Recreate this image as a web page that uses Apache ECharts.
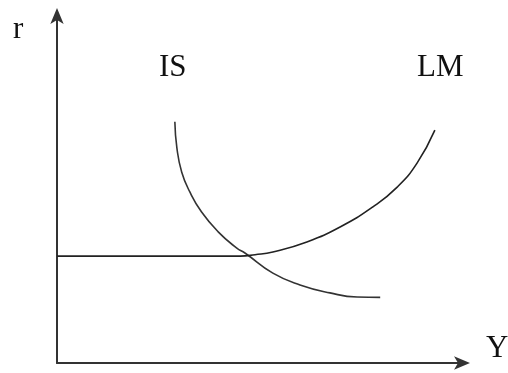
<!DOCTYPE html>
<html><head><meta charset="utf-8">
<script src="https://cdn.jsdelivr.net/npm/echarts@6/dist/echarts.min.js"></script>
<style>html,body{margin:0;padding:0;background:#fff}#c{width:508px;height:373px}</style>
</head><body><div id="c"></div>
<script>
// IS curve (Y, r)
const isY = [29.1, 29.6, 30.8, 32.8, 35.7, 39.8, 44.4, 46.4, 53.3, 60.0, 67.4, 74.1, 79.8];
const isR = [69.5, 62.0, 55.0, 49.3, 43.5, 37.8, 33.1, 31.7, 25.9, 22.5, 20.2, 19.0, 18.9];
// LM curve (Y, r): flat segment then rising
const lmY = [0, 45.2, 48.9, 53.3, 61.7, 69.9, 78.0, 84.0, 88.9, 93.3];
const lmR = [30.8, 30.8, 31.2, 32.0, 34.9, 39.2, 45.0, 50.7, 57.6, 67.1];
const labels = {r: 'r', Y: 'Y', IS: 'IS', LM: 'LM'};

const chart = echarts.init(document.getElementById('c'));
const font = '"Liberation Serif", "DejaVu Serif", serif';
const axisCommon = {
  type: 'value', min: 0, max: 100,
  axisLine: {show: true, lineStyle: {color: '#333', width: 2}, symbol: ['none', 'arrow'], symbolSize: [10, 16], symbolOffset: [0, 8]},
  axisTick: {show: false}, axisLabel: {show: false}, splitLine: {show: false}
};
chart.setOption({
  animation: false,
  backgroundColor: '#fff',
  grid: {left: 57, right: 46, top: 16, bottom: 10},
  xAxis: Object.assign({}, axisCommon),
  yAxis: Object.assign({}, axisCommon),
  series: [
    {type: 'line', smooth: 0.5, symbol: 'none', data: isY.map((v, i) => [v, isR[i]]), lineStyle: {color: '#333', width: 1.6}},
    {type: 'line', smooth: 0.5, symbol: 'none', data: lmY.map((v, i) => [v, lmR[i]]), lineStyle: {color: '#222', width: 1.6}}
  ],
  graphic: [
    {type: 'text', left: 13, top: 14, style: {text: labels.r, font: '31px ' + font, fill: '#111'}},
    {type: 'text', left: 486, top: 333, style: {text: labels.Y, font: '31px ' + font, fill: '#111'}},
    {type: 'text', left: 159, top: 52, style: {text: labels.IS, font: '31px ' + font, fill: '#111'}},
    {type: 'text', left: 417, top: 52, style: {text: labels.LM, font: '31px ' + font, fill: '#111'}}
  ]
});
</script></body></html>
